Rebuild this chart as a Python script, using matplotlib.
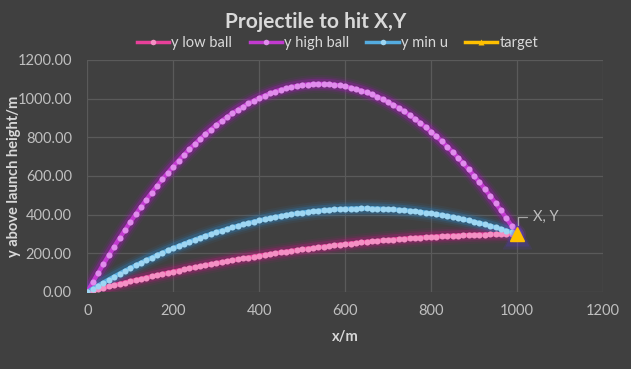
import matplotlib
matplotlib.use("Agg")
import matplotlib.pyplot as plt
from matplotlib.lines import Line2D

# ---------------- data ----------------
x_m = [0, 12.5, 25, 37.5, 50, 62.5, 75, 87.5, 100, 112.5, 125, 137.5, 150, 162.5, 175, 187.5,
       200, 212.5, 225, 237.5, 250, 262.5, 275, 287.5, 300, 312.5, 325, 337.5, 350, 362.5, 375, 387.5,
       400, 412.5, 425, 437.5, 450, 462.5, 475, 487.5, 500, 512.5, 525, 537.5, 550, 562.5, 575, 587.5,
       600, 612.5, 625, 637.5, 650, 662.5, 675, 687.5, 700, 712.5, 725, 737.5, 750, 762.5, 775, 787.5,
       800, 812.5, 825, 837.5, 850, 862.5, 875, 887.5, 900, 912.5, 925, 937.5, 950, 962.5, 975, 987.5,
       1000]

y_low_ball = [0, 7.2, 14.4, 21.4, 28.4, 35.2, 42.0, 48.7, 55.3, 61.8, 68.2, 74.6, 80.8, 87.0, 93.1, 99.1,
              105.0, 110.8, 116.5, 122.1, 127.7, 133.1, 138.5, 143.8, 149.0, 154.1, 159.1, 164.1, 168.9, 173.7, 178.4, 182.9,
              187.4, 191.8, 196.1, 200.3, 204.5, 208.5, 212.5, 216.4, 220.3, 224.0, 227.6, 231.1, 234.6, 237.9, 241.2, 244.4,
              247.5, 250.5, 253.4, 256.2, 259.0, 261.6, 264.2, 266.7, 269.1, 271.4, 273.6, 275.7, 277.7, 279.7, 281.6, 283.4,
              285.1, 286.7, 288.2, 289.6, 290.9, 292.1, 293.3, 294.4, 295.4, 296.3, 297.1, 297.8, 298.4, 298.9, 299.4, 299.7,
              300.0]

y_high_ball = [0, 49.2, 97.2, 144.1, 189.8, 234.4, 277.8, 320.1, 361.2, 401.2, 440.0, 477.7, 514.2, 549.6, 583.8, 616.9,
               648.8, 679.6, 709.2, 737.7, 765.0, 791.2, 816.2, 840.1, 862.8, 884.4, 904.8, 924.1, 942.2, 959.2, 975.0, 989.7,
               1003.2, 1015.6, 1026.8, 1036.9, 1045.8, 1053.6, 1060.2, 1065.7, 1070.0, 1073.2, 1075.2, 1076.1, 1075.8, 1074.4, 1071.8, 1068.1,
               1063.2, 1057.2, 1050.0, 1041.7, 1032.2, 1021.6, 1009.8, 996.9, 982.8, 967.6, 951.2, 933.7, 915.0, 895.2, 874.2, 852.1,
               828.8, 804.4, 778.8, 752.1, 724.2, 695.2, 665.0, 633.7, 601.2, 567.6, 532.8, 496.9, 459.8, 421.6, 382.2, 341.7,
               300.0]

y_min_u = [0, 16.6, 32.9, 48.9, 64.5, 79.8, 94.8, 109.4, 123.7, 137.7, 151.4, 164.8, 177.8, 190.5, 202.9, 214.9,
           226.6, 238.0, 249.1, 259.8, 270.3, 280.4, 290.2, 299.6, 308.7, 317.5, 326.0, 334.1, 341.9, 349.4, 356.6, 363.5,
           370.0, 376.2, 382.0, 387.5, 392.7, 397.6, 402.2, 406.4, 410.4, 414.0, 417.3, 420.2, 422.8, 425.1, 427.0, 428.7,
           430.0, 431.0, 431.6, 432.0, 432.0, 431.7, 431.0, 430.0, 428.7, 427.1, 425.1, 422.8, 420.3, 417.3, 414.1, 410.5,
           406.6, 402.4, 397.8, 392.9, 387.7, 382.2, 376.4, 370.2, 363.7, 356.9, 349.7, 342.2, 334.4, 326.3, 317.8, 309.0,
           300.0]

target_x = [1000]
target_y = [300]
target_label = "X, Y"

series_names = ["y low ball", "y high ball", "y min u", "target"]
title_text = "Projectile to hit X,Y"
x_label = "x/m"
y_label = "y above launch height/m"
x_ticks = [0, 200, 400, 600, 800, 1000, 1200]
y_ticks = [0, 200, 400, 600, 800, 1000, 1200]

# ---------------- style ----------------
BG = "#404040"
GRID = "#5a5a5a"
TXT = "#d9d9d9"
TICK = "#bfbfbf"
plt.rcParams["font.family"] = ["Lato", "DejaVu Sans"]

fig = plt.figure(figsize=(6.31, 3.69), dpi=100, facecolor=BG)
ax = fig.add_axes([0.138, 0.2087, 0.8176, 0.6287], facecolor=BG)

styles = [
    (y_low_ball, "#c01880", "#e8409a", "#f490c4"),
    (y_high_ball, "#a818c0", "#c23ad0", "#e08cec"),
    (y_min_u, "#2a80c0", "#54ace0", "#9ed6f2"),
]

for ys, glow, core, mk in styles:
    for lw, a in [(13, 0.08), (10, 0.14), (7.5, 0.3)]:
        ax.plot(x_m, ys, color=glow, lw=lw, alpha=a, solid_capstyle="round", zorder=2)
    ax.plot(x_m, ys, color=core, lw=3.2, zorder=3)
    ax.plot(x_m, ys, ls="none", marker="o", ms=4.4, mfc=mk, mec="none", zorder=4)

# target with glow
for ms, a in [(21, 0.15), (17, 0.25)]:
    ax.plot(target_x, target_y, ls="none", marker="^", ms=ms, mfc="#5a3ad0", mec="none", alpha=a, zorder=5)
ax.plot(target_x, target_y, ls="none", marker="^", ms=10.5, mfc="#ffc000", mec="#ffc000", zorder=6)

# label with leader line
ax.annotate(target_label, xy=(target_x[0] + 3, target_y[0] + 45), xytext=(target_x[0] + 36, 386),
            color=TICK, fontsize=10.5, va="center", ha="left",
            arrowprops=dict(arrowstyle="-", color="#a6a6a6", lw=0.9,
                            connectionstyle="angle,angleA=0,angleB=90,rad=0",
                            shrinkA=2, shrinkB=0),
            zorder=7)

ax.set_xlim(-0.5, 1200)
ax.set_ylim(0, 1200)
ax.set_xticks(x_ticks)
ax.set_yticks(y_ticks)
ax.set_xticklabels([str(v) for v in x_ticks])
ax.set_yticklabels([f"{v:.2f}" for v in y_ticks])
ax.tick_params(colors=TICK, labelsize=10.5, length=0)
ax.tick_params(axis="y", pad=11)
ax.tick_params(axis="x", pad=9)
ax.grid(True, color=GRID, lw=0.9, zorder=0)
ax.set_axisbelow(True)
for s in ax.spines.values():
    s.set_visible(False)

ax.set_xlabel(x_label, color=TXT, fontsize=10.5, fontweight="bold", labelpad=8)
ax.set_ylabel(y_label, color=TXT, fontsize=10.5, fontweight="bold")
ax.yaxis.set_label_coords(-0.128, 0.5)

fig.text(0.5, 0.94, title_text, ha="center", va="center", color=TXT,
         fontsize=15, fontweight="bold")

handles = []
for (ys, glow, core, mk) in styles:
    handles.append(Line2D([0], [0], color=core, lw=2.5, marker="o", ms=4, mfc=mk, mec="none"))
handles.append(Line2D([0], [0], color="#ffc000", lw=2.5, marker="^", ms=4, mfc="#ffc000", mec="none"))
fig.legend(handles, series_names, loc="center", bbox_to_anchor=(0.535, 0.883), ncol=4,
           frameon=False, fontsize=10.5, labelcolor=TXT, handlelength=2.2, handletextpad=0.15,
           columnspacing=1.2)

fig.savefig("out.png", dpi=100, facecolor=BG)
